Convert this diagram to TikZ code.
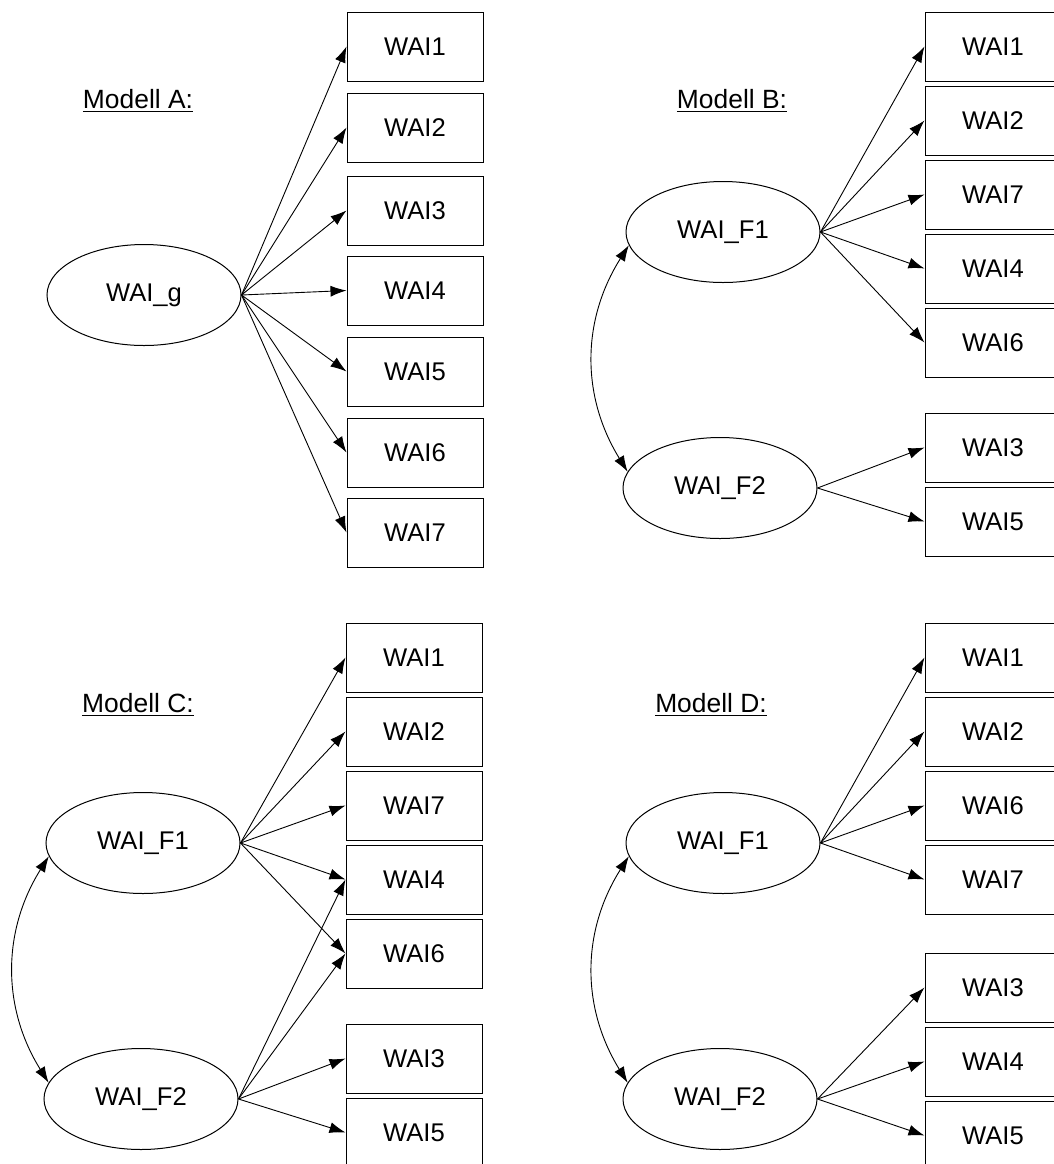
\documentclass[tikz,border=0pt]{standalone}
\usepackage{fontspec}
\setmainfont{Liberation Sans}
\usetikzlibrary{positioning,shapes.geometric,arrows.meta}
\tikzset{%
  latent/.style={ellipse,draw,line width=.5pt,minimum width=97pt,minimum height=50.5pt,inner sep=0pt,font=\fontsize{12.8}{14}\selectfont},
  item/.style={rectangle,draw,line width=.5pt,minimum width=68pt,minimum height=34.5pt,inner sep=0pt,font=\fontsize{12.8}{14}\selectfont},
  modtitle/.style={font=\fontsize{13.2}{15}\selectfont},
  load/.style={line width=.45pt,-{Latex[length=8pt,width=5.5pt]}},
  cov/.style={line width=.45pt,{Latex[length=8pt,width=5.5pt]}-{Latex[length=8pt,width=5.5pt]}}
}

\begin{document}
\begin{tikzpicture}[x=0.5pt,y=-0.5pt]
  \useasboundingbox (0,0) rectangle (1054,1164);
  \clip (0,0) rectangle (1054,1164);

  % Modell A
  \node[modtitle] (tA) at (138,101) {\underline{Modell A:}};
  \node[latent] (aG) at (144,295) {WAI\_g};
  \node[item] (a1) at (415,46.5) {WAI1};
  \node[item,below=5.5pt of a1] (a2) {WAI2};
  \node[item,below=6.5pt of a2] (a3) {WAI3};
  \node[item,below=5pt of a3] (a4) {WAI4};
  \node[item,below=5.5pt of a4] (a5) {WAI5};
  \node[item,below=5.5pt of a5] (a6) {WAI6};
  \node[item,below=5pt of a6] (a7) {WAI7};
  \draw[load] (aG.east) -- (a1.west);
  \draw[load] (aG.east) -- (a2.west);
  \draw[load] (aG.east) -- (a3.west);
  \draw[load] (aG.east) -- (a4.west);
  \draw[load] (aG.east) -- (a5.west);
  \draw[load] (aG.east) -- (a6.west);
  \draw[load] (aG.east) -- (a7.west);

  % Modell B
  \node[modtitle] (tB) at (732,101) {\underline{Modell B:}};
  \node[latent] (bF1) at (723,232) {WAI\_F1};
  \node[latent] (bF2) at (720,488) {WAI\_F2};
  \node[item] (b1) at (993,46.5) {WAI1};
  \node[item,below=2pt of b1] (b2) {WAI2};
  \node[item,below=2pt of b2] (b7) {WAI7};
  \node[item,below=2pt of b7] (b4) {WAI4};
  \node[item,below=2pt of b4] (b6) {WAI6};
  \node[item] (b3) at (993,447.5) {WAI3};
  \node[item,below=2pt of b3] (b5) {WAI5};
  \draw[load] (bF1.east) -- (b1.west);
  \draw[load] (bF1.east) -- (b2.west);
  \draw[load] (bF1.east) -- (b7.west);
  \draw[load] (bF1.east) -- (b4.west);
  \draw[load] (bF1.east) -- (b6.west);
  \draw[load] (bF2.east) -- (b3.west);
  \draw[load] (bF2.east) -- (b5.west);
  \draw[cov] (bF1.188) to[bend right=32] (bF2.170);

  % Modell C
  \node[modtitle] (tC) at (138,705) {\underline{Modell C:}};
  \node[latent] (cF1) at (143,843) {WAI\_F1};
  \node[latent] (cF2) at (141,1099) {WAI\_F2};
  \node[item] (c1) at (414,657.5) {WAI1};
  \node[item,below=2pt of c1] (c2) {WAI2};
  \node[item,below=2pt of c2] (c7) {WAI7};
  \node[item,below=2pt of c7] (c4) {WAI4};
  \node[item,below=2pt of c4] (c6) {WAI6};
  \node[item] (c3) at (414,1058.5) {WAI3};
  \node[item,below=2pt of c3] (c5) {WAI5};
  \draw[load] (cF1.east) -- (c1.west);
  \draw[load] (cF1.east) -- (c2.west);
  \draw[load] (cF1.east) -- (c7.west);
  \draw[load] (cF1.east) -- (c4.west);
  \draw[load] (cF1.east) -- (c6.west);
  \draw[load] (cF2.east) -- (c4.west);
  \draw[load] (cF2.east) -- (c6.west);
  \draw[load] (cF2.east) -- (c3.west);
  \draw[load] (cF2.east) -- (c5.west);
  \draw[cov] (cF1.188) to[bend right=32] (cF2.170);

  % Modell D
  \node[modtitle] (tD) at (711,705) {\underline{Modell D:}};
  \node[latent] (dF1) at (723,843) {WAI\_F1};
  \node[latent] (dF2) at (720,1099) {WAI\_F2};
  \node[item] (d1) at (993,657.5) {WAI1};
  \node[item,below=2pt of d1] (d2) {WAI2};
  \node[item,below=2pt of d2] (d6) {WAI6};
  \node[item,below=2pt of d6] (d7) {WAI7};
  \node[item] (d3) at (993,987.5) {WAI3};
  \node[item,below=2pt of d3] (d4) {WAI4};
  \node[item,below=2pt of d4] (d5) {WAI5};
  \draw[load] (dF1.east) -- (d1.west);
  \draw[load] (dF1.east) -- (d2.west);
  \draw[load] (dF1.east) -- (d6.west);
  \draw[load] (dF1.east) -- (d7.west);
  \draw[load] (dF2.east) -- (d3.west);
  \draw[load] (dF2.east) -- (d4.west);
  \draw[load] (dF2.east) -- (d5.west);
  \draw[cov] (dF1.188) to[bend right=32] (dF2.170);
\end{tikzpicture}
\end{document}
